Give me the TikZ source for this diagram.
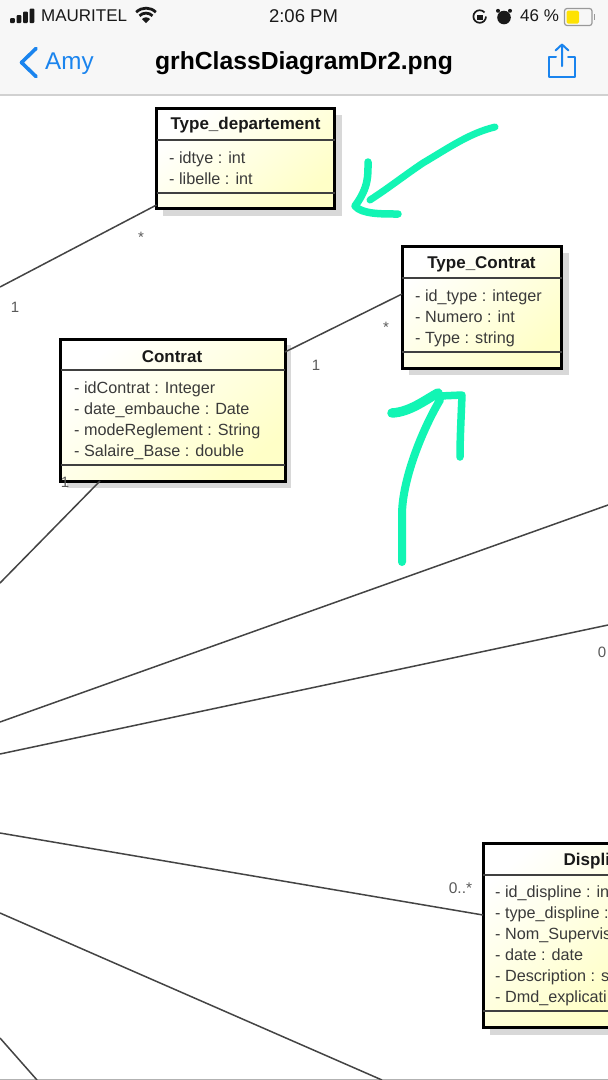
\documentclass[tikz,border=0pt]{standalone}
\usepackage{fontspec}
\setmainfont{Liberation Sans}
\usetikzlibrary{calc}
\definecolor{pen}{HTML}{12F5B4}
\definecolor{iosblue}{HTML}{1A84EE}
\definecolor{bar}{HTML}{F7F7F7}
\definecolor{attr}{HTML}{3A3A3A}
\definecolor{conn}{HTML}{444444}
\definecolor{shadowc}{HTML}{D8D8D8}
\tikzset{
  x=1pt,y=-1pt,
  assoc/.style={draw=conn,line width=1.5},
  classbox/.style={draw=black,line width=3,rectangle,inner sep=0,outer sep=0,anchor=north west,
    left color=white,right color=yellow!22,shading angle=40},
  divider/.style={draw=black!75,line width=1.2},
  boxshadow/.style={fill=shadowc,draw=none},
  title/.style={font=\fontsize{17}{18}\selectfont\bfseries,inner sep=0,text=black!90},
  attrs/.style={font=\fontsize{16.2}{21}\selectfont,inner sep=0,anchor=north west,align=left,text=attr},
  mult/.style={font=\fontsize{15}{17}\selectfont,inner sep=0,text=black!65},
  status/.style={font=\fontsize{17}{19}\selectfont,inner sep=0,text=black!90},
  ink/.style={draw=pen,line width=7.5,line cap=round,line join=round},
  iosline/.style={draw=iosblue,line cap=round,line join=round},
}
\begin{document}
\begin{tikzpicture}
\useasboundingbox (0,0) rectangle (608,1080);
\fill[white] (0,0) rectangle (608,1080);
% iOS chrome
\fill[bar] (0,0) rectangle (608,95);
\draw[black!18,line width=1.2] (0,95) -- (608,95);
\draw[black!30,line width=1.2] (0,1079.5) -- (608,1079.5);
% signal
\foreach \xa/\ya in {10/18,16.5/15,23/11.5,29.5/8.5}{
  \fill[black!90,rounded corners=1] (\xa,\ya) rectangle (\xa+4.8,23);
}
\node[status,anchor=west] (carrier) at (41,16) {MAURITEL};
% wifi
\fill[black!90] (146,23) -- (142,19) arc[start angle=225,end angle=315,radius=5.7] -- cycle;
\draw[black!90,line width=2.8] (139.5,15.8) arc[start angle=225,end angle=315,radius=9.2];
\draw[black!90,line width=2.8] (136.2,12.2) arc[start angle=225,end angle=315,radius=13.9];
\node[status,font=\fontsize{18.5}{20}\selectfont] (clock) at (303.5,16) {2:06 PM};
% rotation lock
\draw[black!90,line width=1.7] (486,16.5) arc[start angle=0,end angle=320,radius=6.3];
\fill[black!90] (477,14.5) rectangle (482.5,20);
% alarm
\fill[black!90] (504,17.5) circle[radius=6.8];
\fill[black!90] (498,10.8) circle[radius=2];
\fill[black!90] (510,10.8) circle[radius=2];
\node[status,anchor=west] (battery) at (520,16) {46 \%};
\draw[black!40,line width=1.2,rounded corners=2.5] (564.5,8.5) rectangle (592,25.5);
\fill[black!40] (593.5,14) rectangle (595,20);
\fill[yellow!85!orange,rounded corners=1.5] (566.5,10.5) rectangle (579,23.5);
% nav bar
\draw[iosline,line width=3.6] (36,48.5) -- (21.5,62.5) -- (36,76.5);
\node[inner sep=0,anchor=west,text=iosblue,font=\fontsize{24.2}{27}\selectfont] (back) at (45,63.5) {Amy};
\node[inner sep=0,text=black,font=\fontsize{24.7}{28}\selectfont\bfseries] (filename) at (304,63.5) {grhClassDiagramDr2.png};
\draw[iosline,line width=2] (556,57) -- (549,57) -- (549,77) -- (575,77) -- (575,57) -- (568,57);
\draw[iosline,line width=2] (562,66) -- (562,44.5) (555.5,50.5) -- (562,44.5) -- (568.5,50.5);

% shadows
\fill[boxshadow] (163,115) rectangle (342,216);
\fill[boxshadow] (409,253) rectangle (569,375);
\fill[boxshadow] (67,345) rectangle (291,488);
\fill[boxshadow] (490,850) rectangle (608,1035);

% classes
\node[classbox,minimum width=178,minimum height=100] (dept) at (156.5,108) {};
\node[classbox,minimum width=159.5,minimum height=122] (tcontrat) at (402,246) {};
\node[classbox,minimum width=224.5,minimum height=142] (contrat) at (60.5,339) {};
\node[classbox,minimum width=140,minimum height=184] (disc) at (483,843) {};
\draw[divider] (156.5,140) -- (334.5,140) (156.5,193) -- (334.5,193);
\draw[divider] (402,278) -- (561.5,278) (402,352) -- (561.5,352);
\draw[divider] (60.5,370) -- (285,370) (60.5,465) -- (285,465);
\draw[divider] (483,875) -- (608,875) (483,1011) -- (608,1011);

\node[title] (deptT) at (245.5,125.5) {Type\_departement};
\node[attrs] (deptA) at (169,151.5) {- idtye : int\\- libelle : int};
\node[title] (tcT) at (481.5,264.5) {Type\_Contrat};
\node[attrs] (tcA) at (415,289.5) {- id\_type : integer\\- Numero : int\\- Type : string};
\node[title] (cT) at (172,356.5) {Contrat};
\node[attrs] (cA) at (74,382) {- idContrat : Integer\\- date\_embauche : Date\\- modeReglement : String\\- Salaire\_Base : double};
\node[title,anchor=west] (dT) at (563.5,861.5) {Displi};
\node[attrs] (dA) at (495,886) {- id\_displine : in\\- type\_displine :\\- Nom\_Supervis\\- date : date\\- Description : s\\- Dmd\_explicati};

% free ends
\coordinate (e1) at (0,287);
\coordinate (e2) at (0,583);
\coordinate (e3) at (608,505);
\coordinate (e4) at (0,722);
\coordinate (e5) at (608,625);
\coordinate (e6) at (0,754);
\coordinate (e7) at (0,833);
\coordinate (e8) at (0,913);
\coordinate (e9) at (382,1080);
\coordinate (e10) at (0,1038);
\coordinate (e11) at (37,1080);
\coordinate (c1) at (100,481);

\draw[assoc] (e1) -- (dept.south west |- 0,205);
\draw[assoc] (contrat.east |- 0,352) -- (tcontrat.west |- 0,294);
\draw[assoc] (c1) -- (e2);
\draw[assoc] (e3) -- (e4);
\draw[assoc] (e5) -- (e6);
\draw[assoc] (e7) -- (disc.west |- 0,915);
\draw[assoc] (e8) -- (e9);
\draw[assoc] (e10) -- (e11);

% multiplicities
\node[mult] (m1) at (141,237) {*};
\node[mult] (m2) at (15,307) {1};
\node[mult] (m3) at (386,327) {*};
\node[mult] (m4) at (316,365) {1};
\node[mult] (m5) at (65,482) {1};
\node[mult] (m6) at (602,652) {0};
\node[mult,font=\fontsize{15.5}{17}\selectfont] (m7) at (460.5,888) {0..*};

% hand-drawn arrows
\draw[ink,line width=7] (495,127) .. controls (470,133) and (450,147) .. (423,163) .. controls (405,175) and (390,187) .. (370,200);
\draw[ink] (368,162) .. controls (368,175) and (369,187) .. (355,206) .. controls (362,214) and (380,214) .. (398,214);
\draw[ink,line width=8] (402,562) -- (402,513) .. controls (403,475) and (425,425) .. (440,400);
\draw[ink,line width=9.5] (392,413) .. controls (410,412) and (425,400) .. (438,393);
\draw[ink] (440,396) -- (462,395) .. controls (461,420) and (460,440) .. (460,457);
\end{tikzpicture}
\end{document}
